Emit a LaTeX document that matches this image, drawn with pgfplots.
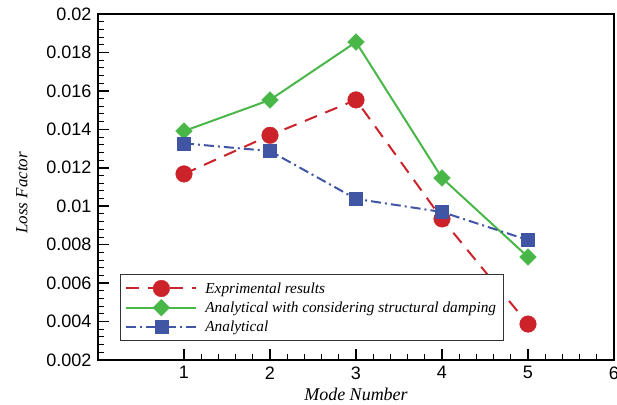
\documentclass[border=0pt]{standalone}
\usepackage{pgfplots}
\pgfplotsset{compat=1.18}
\usepackage{fontspec}
\setmainfont{Liberation Sans}
\newfontfamily\tnr{Liberation Serif}

\definecolor{expred}{RGB}{204,34,41}
\definecolor{anagreen}{RGB}{73,183,72}
\definecolor{anablue}{RGB}{65,85,165}

\begin{document}
\begin{tikzpicture}
\begin{axis}[
  width=516pt, height=346pt, scale only axis,
  xmin=0, xmax=6, ymin=0.002, ymax=0.02,
  xtick={1,2,3,4,5,6},
  ytick={0.002,0.004,0.006,0.008,0.01,0.012,0.014,0.016,0.018,0.02},
  minor x tick num=4, minor y tick num=4,
  tick align=inside, tick pos=left,
  major tick length=11pt, minor tick length=6pt,
  every major tick/.style={black, line width=1.6pt},
  every minor tick/.style={black, line width=0.9pt},
  axis line style={line width=2.2pt},
  /pgf/number format/assume math mode=true,
  tick label style={font=\fontsize{18}{20}\selectfont},
  xticklabel style={yshift=-3pt},
  yticklabel style={xshift=-3pt, /pgf/number format/fixed, /pgf/number format/precision=3},
  scaled y ticks=false,
  xlabel={Mode Number},
  ylabel={Loss Factor},
  xlabel style={font=\tnr\itshape\fontsize{18}{20}\selectfont,
    at={(axis description cs:0.5,0)}, anchor=base, yshift=-41pt},
  ylabel style={font=\tnr\itshape\fontsize{17}{19}\selectfont,
    at={(axis description cs:-0.1473,0.483)}, anchor=center},
  legend cell align=left,
  legend style={at={(rel axis cs:0.0426,0.0549)}, anchor=south west,
    draw=black!80, line width=0.8pt,
    font=\tnr\itshape\fontsize{15.3}{17}\selectfont,
    row sep=2.5pt, inner xsep=5pt, inner ysep=6pt,
    /tikz/every odd column/.append style={column sep=6pt}},
  legend image code/.code={%
    \draw[mark repeat=2, mark phase=2]
      plot coordinates {(0pt,0pt) (35pt,0pt) (70pt,0pt)};},
]
\addplot[expred, line width=2pt, dash pattern=on 13pt off 9pt,
  mark=*, mark size=8.3pt,
  mark options={solid, line width=0.4pt, fill=expred, draw=expred}]
  coordinates {(1,0.01168) (2,0.01369) (3,0.01553) (4,0.00934) (5,0.00387)};
\addlegendentry{Exprimental results}
\addplot[anagreen, line width=2pt,
  mark=square*, mark size=5.9pt,
  mark options={solid, rotate=45, line width=0.4pt, fill=anagreen, draw=anagreen}]
  coordinates {(1,0.01391) (2,0.01553) (3,0.01854) (4,0.01147) (5,0.00736)};
\addlegendentry{Analytical with considering structural damping}
\addplot[anablue, line width=2pt, dash pattern=on 10pt off 4pt on 2pt off 4pt,
  mark=square*, mark size=6.5pt,
  mark options={solid, line width=0.4pt, fill=anablue, draw=anablue}]
  coordinates {(1,0.01327) (2,0.01287) (3,0.01038) (4,0.0097) (5,0.00824)};
\addlegendentry{Analytical}
\end{axis}
\pgfresetboundingbox
\path[use as bounding box]
  ([xshift=-98pt,yshift=-45pt]current axis.south west)
  rectangle ([xshift=3pt,yshift=14pt]current axis.north east);
\end{tikzpicture}
\end{document}
